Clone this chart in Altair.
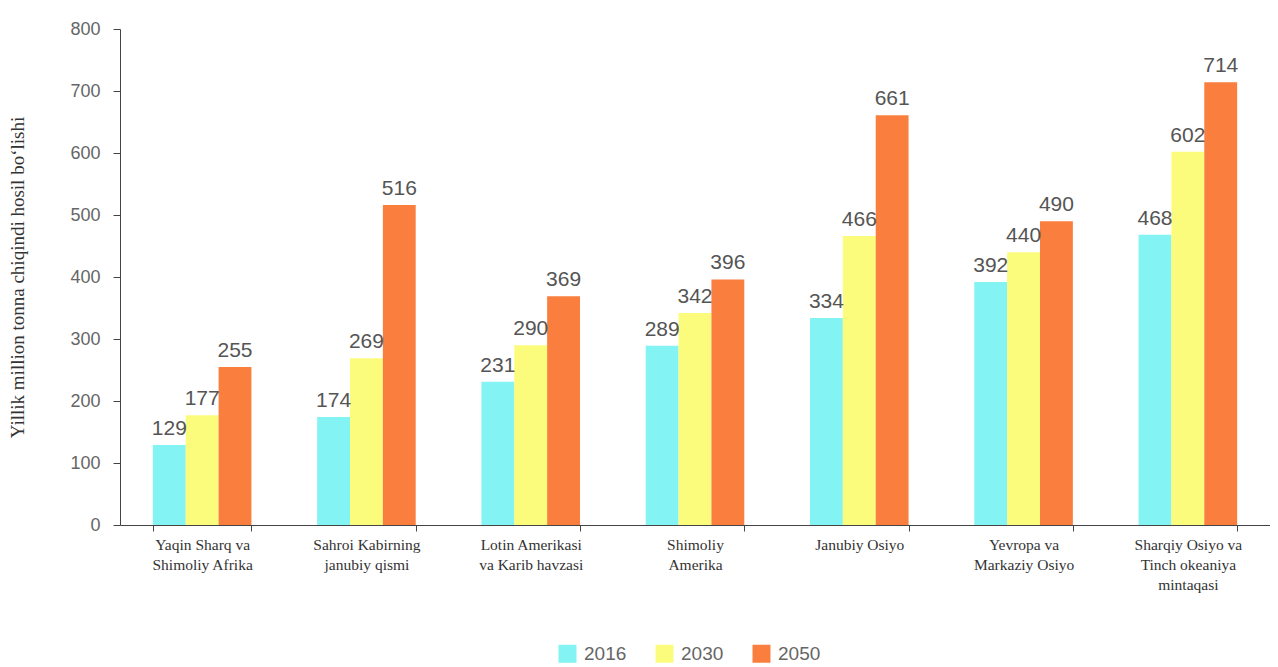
import altair as alt
import pandas as pd

regions = [
    "Yaqin Sharq va|Shimoliy Afrika",
    "Sahroi Kabirning|janubiy qismi",
    "Lotin Amerikasi|va Karib havzasi",
    "Shimoliy|Amerika",
    "Janubiy Osiyo",
    "Yevropa va|Markaziy Osiyo",
    "Sharqiy Osiyo va|Tinch okeaniya|mintaqasi",
]
years = ["2016", "2030", "2050"]
v2016 = [129, 174, 231, 289, 334, 392, 468]
v2030 = [177, 269, 290, 342, 466, 440, 602]
v2050 = [255, 516, 369, 396, 661, 490, 714]
colors = ["#84F3F3", "#FCFC7C", "#FA7F3E"]

rows = []
for i, r in enumerate(regions):
    for y, vals in zip(years, [v2016, v2030, v2050]):
        rows.append({"region": r, "year": y, "value": vals[i]})
df = pd.DataFrame(rows)

x = alt.X("region:N", sort=regions,
          scale=alt.Scale(paddingInner=0.4, paddingOuter=0.2),
          axis=alt.Axis(title=None, labelExpr="split(datum.label, '|')",
                        labelAngle=0, labelFont="Liberation Serif", labelFontSize=15.5,
                        labelColor="#333", labelPadding=6, labelLineHeight=20,
                        tickBand="extent", tickSize=6, tickColor="#444",
                        domainColor="#444", labelBaseline="top"))
xo = alt.XOffset("year:N", sort=years)

bars = alt.Chart(df).mark_bar().encode(
    x=x, xOffset=xo,
    y=alt.Y("value:Q", scale=alt.Scale(domain=[0, 800]),
            axis=alt.Axis(values=list(range(0, 801, 100)), grid=False,
                          title="Yillik million tonna chiqindi hosil bo‘lishi",
                          titleFont="Liberation Serif", titleFontSize=19,
                          titleFontWeight="normal", titleColor="#333", titlePadding=42,
                          labelFont="Liberation Sans", labelFontSize=18, labelColor="#666",
                          labelPadding=13, tickSize=7, tickColor="#444", domainColor="#444")),
    color=alt.Color("year:N", sort=years, scale=alt.Scale(domain=years, range=colors),
                    legend=alt.Legend(title=None, orient="none", direction="horizontal",
                                      legendX=438, legendY=615, symbolType="square",
                                      symbolSize=324, symbolStrokeWidth=0,
                                      labelFont="Liberation Sans", labelFontSize=19,
                                      labelColor="#666", columnPadding=28,
                                      labelOffset=7)),
)

text = alt.Chart(df).mark_text(dy=-16, font="Liberation Sans", fontSize=21,
                               color="#555").encode(
    x=x, xOffset=xo, y="value:Q", text="value:Q")

chart = (bars + text).properties(
    width=1150, height=496,
    autosize=alt.AutoSizeParams(type="none"),
    padding={"left": 112, "top": 21, "right": 0, "bottom": 142},
).configure(background="white").configure_view(stroke=None, strokeWidth=0)

chart.save("out.html", embed_options={"renderer": "svg", "actions": False})
